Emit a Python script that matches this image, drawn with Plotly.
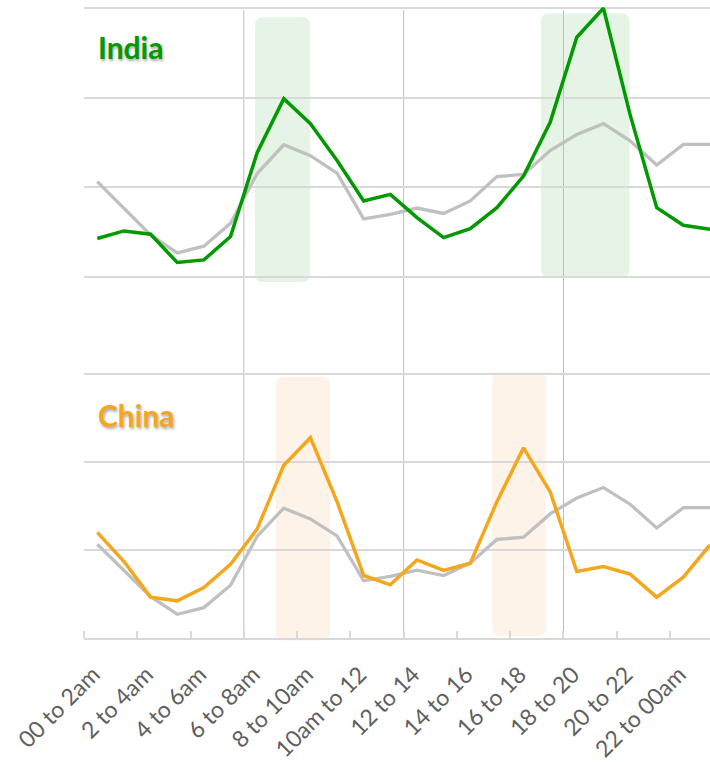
import plotly.graph_objects as go

# ---- data (hourly share, in gridline units) ----
tick_labels = ["00 to 2am", "2 to 4am", "4 to 6am", "6 to 8am", "8 to 10am", "10am to 12",
               "12 to 14", "14 to 16", "16 to 18", "18 to 20", "20 to 22", "22 to 00am"]
hours = list(range(24))
world = [1.065, 0.77, 0.47, 0.27, 0.345, 0.60, 1.155, 1.475, 1.353, 1.16, 0.65, 0.70,
         0.77, 0.71, 0.85, 1.12, 1.145, 1.41, 1.59, 1.71, 1.52, 1.25, 1.48, 1.48]
india = [0.43, 0.515, 0.478, 0.163, 0.192, 0.452, 1.386, 1.989, 1.711, 1.30, 0.848, 0.922,
         0.663, 0.441, 0.541, 0.774, 1.126, 1.726, 2.674, 2.997, 1.811, 0.774, 0.578, 0.533]
china = [1.20, 0.869, 0.464, 0.422, 0.574, 0.838, 1.238, 1.963, 2.276, 1.548, 0.71, 0.604,
         0.887, 0.767, 0.849, 1.548, 2.16, 1.661, 0.755, 0.812, 0.725, 0.464, 0.691, 1.057]

GREEN = "#009900"
ORANGE = "#f4a71d"
GRAY = "#c0c0c0"
FONT = "Lato"

fig = go.Figure()
fig.add_trace(go.Scatter(x=hours, y=world, mode="lines", line=dict(color=GRAY, width=3.3),
                         xaxis="x", yaxis="y", hoverinfo="skip", showlegend=False))
fig.add_trace(go.Scatter(x=hours, y=india, mode="lines", line=dict(color=GREEN, width=3.5),
                         xaxis="x", yaxis="y", showlegend=False, name="India"))
fig.add_trace(go.Scatter(x=hours, y=world, mode="lines", line=dict(color=GRAY, width=3.3),
                         xaxis="x", yaxis="y2", hoverinfo="skip", showlegend=False))
fig.add_trace(go.Scatter(x=hours, y=china, mode="lines", line=dict(color=ORANGE, width=3.5),
                         xaxis="x", yaxis="y2", showlegend=False, name="China"))

# ---- highlight boxes (rounded) ----
PX_X = 26.62   # pixels per x unit
PLOT_H = 640.0


def rounded(x0, x1, y0, y1, r_px=8):
    rx = r_px / PX_X
    ry = r_px / PLOT_H
    return (f"M {x0+rx},{y0} L {x1-rx},{y0} Q {x1},{y0} {x1},{y0+ry} "
            f"L {x1},{y1-ry} Q {x1},{y1} {x1-rx},{y1} L {x0+rx},{y1} "
            f"Q {x0},{y1} {x0},{y1-ry} L {x0},{y0+ry} Q {x0},{y0} {x0+rx},{y0} Z")


shapes = []
boxes = [
    (5.92, 7.99, 0.558, 0.973, "rgba(0,150,0,0.10)"),
    (16.65, 19.98, 0.565, 0.979, "rgba(0,150,0,0.10)"),
    (6.71, 8.74, -0.004, 0.409, "rgba(240,150,50,0.11)"),
    (14.82, 16.84, 0.003, 0.416, "rgba(240,150,50,0.11)"),
]
for x0, x1, y0, y1, col in boxes:
    shapes.append(dict(type="path", path=rounded(x0, x1, y0, y1), xref="x", yref="paper",
                       fillcolor=col, line=dict(width=0), layer="below"))
for xv in [5.5, 11.5, 17.5]:
    shapes.append(dict(type="line", x0=xv, x1=xv, y0=0, y1=0.984, xref="x", yref="paper",
                       line=dict(color="#bdbdbd", width=1), layer="below"))

fig.update_layout(
    width=710, height=762,
    margin=dict(l=84, r=0, t=0, b=122),
    paper_bgcolor="white", plot_bgcolor="white",
    font=dict(family=FONT, color="#595959"),
    shapes=shapes,
    xaxis=dict(
        range=[-0.5, 23.0], anchor="y2",
        tickmode="array", tickvals=[2 * i - 0.15 for i in range(12)], ticktext=tick_labels,
        tickangle=-45, tickfont=dict(size=23, color="#5f5f5f", family=FONT),
        ticklabelstandoff=12,
        ticks="", showgrid=False, zeroline=False,
        showline=True, linecolor="#d9d9d9", linewidth=2,
        minor=dict(tickmode="array", tickvals=[2 * i - 0.5 for i in range(12)],
                   ticks="inside", ticklen=7, tickwidth=2, tickcolor="#d9d9d9", showgrid=False),
    ),
    yaxis=dict(
        domain=[(640 - 290) / 640, 1.0], range=[-0.1333, 3.0889], anchor="x",
        tickmode="linear", tick0=0, dtick=1, showticklabels=False, ticks="",
        showgrid=True, gridcolor="#d9d9d9", gridwidth=2, zeroline=False,
    ),
    yaxis2=dict(
        domain=[0, 0.45], range=[0, 0.45 * 640 / 88.3], anchor="x",
        tickmode="linear", tick0=0, dtick=1, showticklabels=False, ticks="",
        showgrid=True, gridcolor="#d9d9d9", gridwidth=2, zeroline=False,
    ),
    annotations=[
        dict(text="<b>India</b>", x=(96 - 84) / 626, y=(640 - 47) / 640, xref="paper", yref="paper",
             xanchor="left", yanchor="middle", showarrow=False,
             font=dict(size=30, color=GREEN, family=FONT, shadow="1px 2px 3px rgba(0,0,0,0.35)")),
        dict(text="<b>China</b>", x=(96 - 84) / 626, y=(640 - 416) / 640, xref="paper", yref="paper",
             xanchor="left", yanchor="middle", showarrow=False,
             font=dict(size=30, color=ORANGE, family=FONT, shadow="1px 2px 3px rgba(0,0,0,0.35)")),
    ],
)

fig.write_html("out.html", config={"displayModeBar": False},
               post_script="document.body.style.margin='0';")
